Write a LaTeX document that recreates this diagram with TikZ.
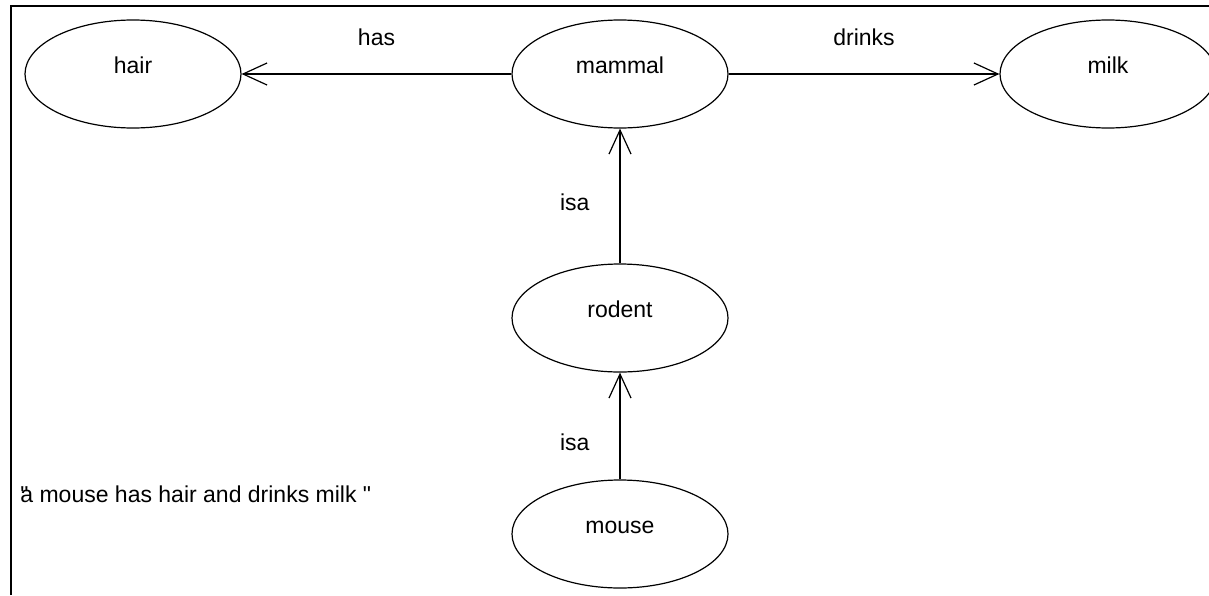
\documentclass[tikz,border=0pt]{standalone}
\usepackage{fontspec}
\setmainfont{Liberation Sans}
\usetikzlibrary{shapes.geometric,arrows.meta}

\tikzset{
  concept/.style={ellipse, draw, line width=0.6pt, minimum width=108pt, minimum height=54pt,
    inner sep=0pt, text height=8pt, text depth=9pt},
  rel/.style={line width=0.6pt, -{Straight Barb[length=12pt,width=11pt,line width=0.6pt]}},
  rellabel/.style={inner sep=1pt}
}

\begin{document}
\begin{tikzpicture}[x=0.5pt,y=-0.5pt,font=\fontsize{11.5}{14}\selectfont]
\useasboundingbox (0,0) rectangle (1209,595);

% Frame
\draw[line width=1pt] (11,595) -- (11,6) -- (1209,6);

% Concepts
\node[concept] (hair)   at (133,74)  {hair};
\node[concept] (mammal) at (620,74)  {mammal};
\node[concept] (milk)   at (1108,74) {milk};
\node[concept] (rodent) at (620,318) {rodent};
\node[concept] (mouse)  at (620,534) {mouse};

% Relations
\draw[rel] (mammal) -- node[rellabel, above=13pt] (has) {has} (hair);
\draw[rel] (mammal) -- node[rellabel, above=13pt] (drinks) {drinks} (milk);
\draw[rel] (rodent) -- node[rellabel, left=14pt, pos=0.45] (isa1) {isa} (mammal);
\draw[rel] (mouse) -- node[rellabel, left=14pt, pos=0.35] (isa2) {isa} (rodent);

% Sentence
\node[anchor=west, inner sep=0pt] (sentence) at (20,494)
  {\rlap{\textquotedbl}a mouse has hair and drinks milk \textquotedbl};

\end{tikzpicture}
\end{document}
